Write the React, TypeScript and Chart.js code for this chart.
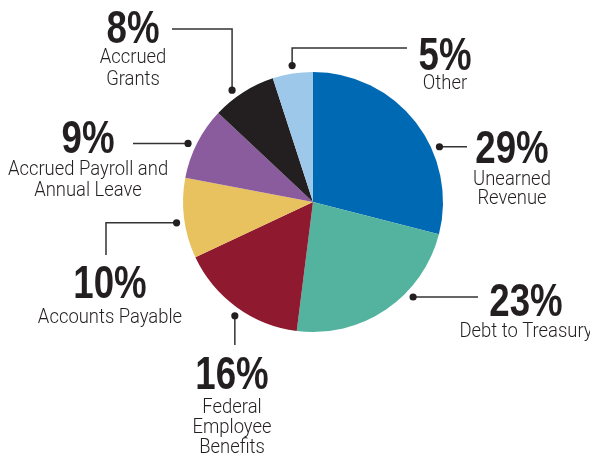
import React, { useEffect, useRef } from "react";
import { Chart, registerables } from "chart.js";

Chart.register(...registerables);

// ---- data ----
const categories = [
  "Unearned Revenue",
  "Debt to Treasury",
  "Federal Employee Benefits",
  "Accounts Payable",
  "Accrued Payroll and Annual Leave",
  "Accrued Grants",
  "Other",
];
const shares = [29, 23, 16, 10, 9, 8, 5];
const percentLabels = ["29%", "23%", "16%", "10%", "9%", "8%", "5%"];
const labelLines = [
  ["Unearned", "Revenue"],
  ["Debt to Treasury"],
  ["Federal", "Employee", "Benefits"],
  ["Accounts Payable"],
  ["Accrued Payroll and", "Annual Leave"],
  ["Accrued", "Grants"],
  ["Other"],
];
const sliceColors = [
  "#0069b4",
  "#53b39f",
  "#8f1a30",
  "#e8c25e",
  "#8a5b9d",
  "#231f20",
  "#9dc8ea",
];

// ---- callout layout (annotation placement only) ----
type Pt = [number | null, number | null];
interface Callout {
  angle: number; // degrees clockwise from top
  path: Pt[];
  textX: number;
  pctBase: number;
  lineBases: number[];
}
const callouts: Callout[] = [
  { angle: 66.4, path: [[467, null]], textX: 512, pctBase: 163, lineBases: [185, 204] },
  { angle: 133.5, path: [[478, null]], textX: 526, pctBase: 316, lineBases: [337] },
  { angle: 214.5, path: [[null, 345]], textX: 232, pctBase: 389, lineBases: [413, 433, 453] },
  { angle: 261.3, path: [[106, null], [106, 255]], textX: 110, pctBase: 298, lineBases: [323] },
  { angle: 295.1, path: [[133, null]], textX: 88, pctBase: 153, lineBases: [175, 196] },
  { angle: 324.1, path: [[null, 29], [172, 29]], textX: 133, pctBase: 43, lineBases: [63, 85] },
  { angle: 351.3, path: [[null, 48], [407, 48]], textX: 445, pctBase: 70, lineBases: [89] },
];

const TEXT_COLOR = "#231f20";
const LINE_COLOR = "#333333";
const PCT_FONT = "bold 47px 'Liberation Sans', Arial, sans-serif";
const LABEL_FONT = "300 19.5px Roboto, 'Liberation Sans', sans-serif";

function drawScaledText(
  ctx: CanvasRenderingContext2D,
  text: string,
  cx: number,
  baseline: number,
  font: string,
  scaleX: number,
  color: string
) {
  ctx.save();
  ctx.translate(cx, baseline);
  ctx.scale(scaleX, 1);
  ctx.font = font;
  ctx.textAlign = "center";
  ctx.textBaseline = "alphabetic";
  ctx.fillStyle = color;
  ctx.fillText(text, 0, 0);
  ctx.restore();
}

const calloutPlugin = {
  id: "callouts",
  afterDraw(chart: any) {
    const ctx: CanvasRenderingContext2D = chart.ctx;
    const meta = chart.getDatasetMeta(0);
    const arc = meta.data[0];
    if (!arc) return;
    const cx = arc.x;
    const cy = arc.y;
    const r = arc.outerRadius + 8;
    callouts.forEach((c, i) => {
      const a = (c.angle * Math.PI) / 180;
      const dx = cx + r * Math.sin(a);
      const dy = cy - r * Math.cos(a);
      ctx.save();
      ctx.strokeStyle = LINE_COLOR;
      ctx.lineWidth = 1.5;
      ctx.beginPath();
      ctx.moveTo(dx, dy);
      let px = dx;
      let py = dy;
      c.path.forEach(([x, y]) => {
        px = x === null ? px : x;
        py = y === null ? py : y;
        ctx.lineTo(px, py);
      });
      ctx.stroke();
      ctx.fillStyle = "#231f20";
      ctx.beginPath();
      ctx.arc(dx, dy, 3.6, 0, Math.PI * 2);
      ctx.fill();
      ctx.restore();
      drawScaledText(ctx, percentLabels[i], c.textX, c.pctBase, PCT_FONT, 0.78, TEXT_COLOR);
      labelLines[i].forEach((line, j) => {
        drawScaledText(ctx, line, c.textX, c.lineBases[j], LABEL_FONT, 0.945, "#231f20");
      });
    });
  },
};

export default function App() {
  const canvasRef = useRef<HTMLCanvasElement | null>(null);

  useEffect(() => {
    if (!canvasRef.current) return;
    const chart = new Chart(canvasRef.current, {
      type: "pie",
      data: {
        labels: categories,
        datasets: [
          {
            data: shares,
            backgroundColor: sliceColors,
            borderWidth: 0,
          },
        ],
      },
      options: {
        responsive: false,
        animation: false,
        devicePixelRatio: 1,
        layout: { padding: { left: 183, right: 147, top: 72, bottom: 130 } },
        plugins: {
          legend: { display: false },
          tooltip: { enabled: false },
        },
      },
      plugins: [calloutPlugin],
    });
    return () => chart.destroy();
  }, []);

  return (
    <div style={{ position: "absolute", left: 0, top: 0, width: 590, height: 462, background: "#fff" }}>
      <canvas ref={canvasRef} width={590} height={462} style={{ display: "block" }} />
    </div>
  );
}
